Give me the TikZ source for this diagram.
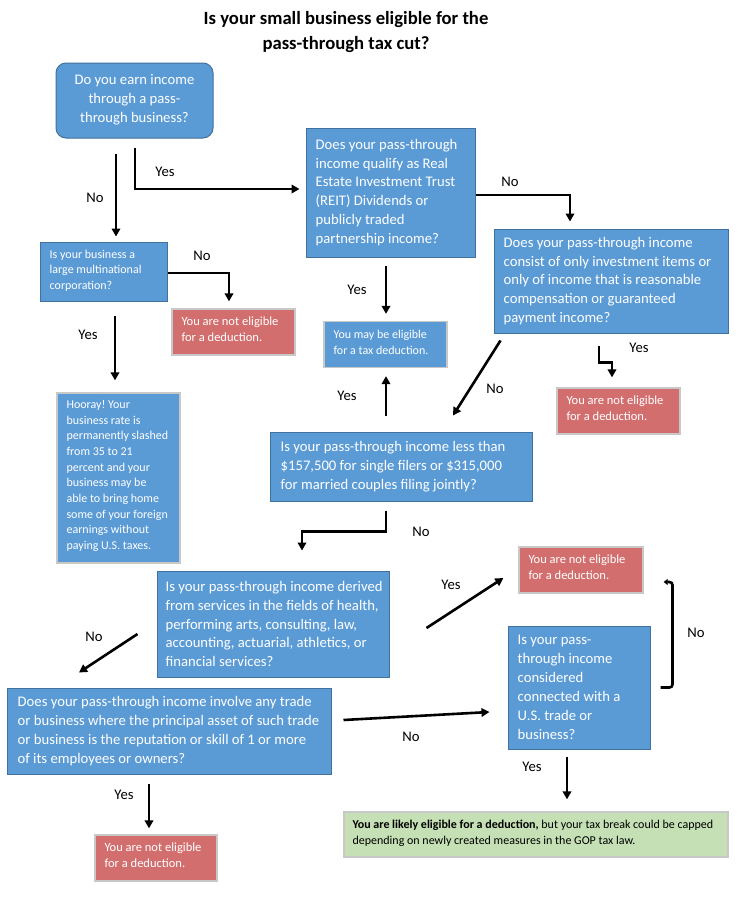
\documentclass[tikz,border=0pt]{standalone}
\usepackage{fontspec}
\setmainfont{Carlito}
\usetikzlibrary{arrows.meta,calc}
\definecolor{bfill}{RGB}{91,155,213}
\definecolor{bline}{RGB}{65,113,156}
\definecolor{rfill}{RGB}{211,110,110}
\definecolor{gline}{RGB}{200,200,200}
\definecolor{grfill}{RGB}{197,224,180}
\frenchspacing
\begin{document}
\begin{tikzpicture}[x=1pt,y=1pt,
  box/.style={draw=bline, fill=bfill, line width=1pt, inner sep=0pt},
  graybox/.style={draw=gline, fill=bfill, line width=1.3pt, inner sep=0pt},
  redbox/.style={graybox, fill=rfill},
  greenbox/.style={graybox, fill=grfill},
  txt/.style={text=white, inner sep=0pt, align=left, anchor=west, font=\fontsize{14.67}{18.9}\selectfont},
  stxt/.style={txt, font=\fontsize{12}{15.7}\selectfont},
  rtxt/.style={txt, font=\fontsize{12.5}{16}\selectfont},
  lbl/.style={font=\fontsize{14.67}{17}\selectfont, text=black, inner sep=0pt},
  arr/.style={line width=2.6pt, line join=miter, -{Triangle[length=8pt,width=8.5pt]}},
  sarr/.style={line width=2.6pt, rounded corners=3pt, -{Triangle[length=4pt,width=6pt]}},
  title/.style={font=\bfseries\fontsize{18.67}{25}\selectfont, align=center, inner sep=0pt}
]
\useasboundingbox (0,0) rectangle (744,-900);
\fill[white] (0,0) rectangle (744,-900);

\node[title] (ttl) at (346,-32) {Is your small business eligible for the\\pass-through tax cut?};

% boxes
\node[box, rounded corners=10pt, minimum width=157pt, minimum height=75pt] (start) at (134.5,-100.5) {};
\node[box, minimum width=169pt, minimum height=129pt] (reit) at (390.5,-192.5) {};
\node[box, minimum width=127pt, minimum height=59pt] (multi) at (103.5,-271.5) {};
\node[redbox, minimum width=123pt, minimum height=46pt] (red1) at (233.5,-332) {};
\node[graybox, minimum width=123pt, minimum height=46pt] (maybe) at (385.5,-344.5) {};
\node[box, minimum width=234pt, minimum height=104pt] (invest) at (611,-281) {};
\node[redbox, minimum width=123pt, minimum height=46pt] (red2) at (618.5,-411) {};
\node[graybox, minimum width=123pt, minimum height=170pt] (hooray) at (118.5,-478) {};
\node[box, minimum width=262pt, minimum height=69pt] (income) at (401,-466.5) {};
\node[box, minimum width=232pt, minimum height=106pt] (services) at (273,-624) {};
\node[redbox, minimum width=124pt, minimum height=46pt] (red3) at (581,-570) {};
\node[box, minimum width=142pt, minimum height=123pt] (us) at (579,-687.5) {};
\node[box, minimum width=324pt, minimum height=86pt] (rep) at (169,-731) {};
\node[redbox, minimum width=122pt, minimum height=46pt] (red4) at (156,-858) {};
\node[greenbox, minimum width=384pt, minimum height=45pt] (green) at (536,-834.5) {};

% texts
\node[txt, anchor=center, align=center] (t-start) at ([yshift=1pt]start.center) {Do you earn income\\through a pass-\\through business?};
\node[txt] (t-reit) at ([xshift=10pt]reit.west) {Does your pass-through\\income qualify as Real\\Estate Investment Trust\\(REIT) Dividends or\\publicly traded\\partnership income?};
\node[stxt] (t-multi) at ([xshift=10pt,yshift=1pt]multi.west) {Is your business a\\large multinational\\corporation?};
\node[rtxt] (t-red1) at ([xshift=10pt,yshift=2.5pt]red1.west) {You are not eligible\\for a deduction.};
\node[stxt] (t-maybe) at ([xshift=10pt,yshift=2pt]maybe.west) {You may be eligible\\for a tax deduction.};
\node[txt] (t-invest) at ([xshift=10pt]invest.west) {Does your pass-through income\\consist of only investment items or\\only of income that is reasonable\\compensation or guaranteed\\payment income?};
\node[rtxt] (t-red2) at ([xshift=10pt,yshift=2.5pt]red2.west) {You are not eligible\\for a deduction.};
\node[stxt] (t-hooray) at ([xshift=10pt,yshift=2pt]hooray.west) {Hooray! Your\\business rate is\\permanently slashed\\from 35 to 21\\percent and your\\business may be\\able to bring home\\some of your foreign\\earnings without\\paying U.S. taxes.};
\node[txt] (t-income) at ([xshift=11pt]income.west) {Is your pass-through income less than\\\$157,500 for single filers or \$315,000\\for married couples filing jointly?};
\node[txt] (t-services) at ([xshift=9pt]services.west) {Is your pass-through income derived\\from services in the fields of health,\\performing arts, consulting, law,\\accounting, actuarial, athletics, or\\financial services?};
\node[rtxt] (t-red3) at ([xshift=10pt,yshift=2.5pt]red3.west) {You are not eligible\\for a deduction.};
\node[txt] (t-us) at ([xshift=10pt]us.west) {Is your pass-\\through income\\considered\\connected with a\\U.S. trade or\\business?};
\node[txt] (t-rep) at ([xshift=11pt]rep.west) {Does your pass-through income involve any trade\\or business where the principal asset of such trade\\or business is the reputation or skill of 1 or more\\of its employees or owners?};
\node[rtxt] (t-red4) at ([xshift=10pt,yshift=2.5pt]red4.west) {You are not eligible\\for a deduction.};
\node[stxt, text=black] (t-green) at ([xshift=9pt,yshift=1pt]green.west) {\textbf{You are likely eligible for a deduction,} but your tax break could be capped\\depending on newly created measures in the GOP tax law.};

% connectors
\draw[arr, shorten <=15pt, shorten >=5pt] ([xshift=-18.5pt]start.south) -- ([xshift=12.5pt]multi.north);
\draw[arr, shorten >=6pt] ([xshift=0.5pt,yshift=-9pt]start.south) |- ([yshift=3.5pt]reit.west);
\draw[arr, shorten >=7pt] ([yshift=-1.5pt]multi.east) -| ([xshift=-4.5pt]red1.north);
\draw[arr, shorten <=14pt, shorten >=12pt] ([xshift=11.5pt]multi.south) -- ([xshift=-3.5pt]hooray.north);
\draw[arr, shorten <=8pt, shorten >=7pt] ([xshift=-4.5pt]reit.south) -- ([xshift=0.5pt]maybe.north);
\draw[arr, shorten >=7pt] ([yshift=-2.5pt]reit.east) -| ([xshift=-41pt]invest.north);
\draw[arr] ([xshift=-12pt,yshift=-12pt]invest.south) -- ++(0,-17) -| ([xshift=-6.5pt,yshift=10pt]red2.north);
\draw[arr] ([xshift=7pt,yshift=-7pt]invest.south west) -- ([xshift=52pt,yshift=16pt]income.north);
\draw[arr, shorten <=16pt, shorten >=8pt] ([xshift=-15pt]income.north) -- ([xshift=0.5pt]maybe.south);
\draw[arr] ([xshift=-15pt,yshift=-9pt]income.south) -- ++(0,-21) -| ([xshift=29pt,yshift=20pt]services.north);
\draw[arr] ([xshift=37pt,yshift=-4pt]services.east) -- ([xshift=-15pt,yshift=-8pt]red3.west);
\draw[arr] ([xshift=-19pt,yshift=-10pt]services.west) -- ([xshift=-90pt,yshift=15pt]rep.north);
\draw[arr] ([xshift=12pt,yshift=11pt]rep.east) -- ([xshift=-18pt,yshift=-24.5pt]us.west);
\draw[arr, shorten <=9pt, shorten >=6pt] ([xshift=-20pt]rep.south) -- ([xshift=-7pt]red4.north);
\draw[sarr] ([xshift=10pt]us.east) -- ++(12,0) |- ([xshift=20pt,yshift=-12pt]red3.east);
\draw[arr, shorten <=7pt, shorten >=12pt] ([xshift=-12pt]us.south) -- ([xshift=31pt]green.north);

% labels
\node[lbl] (l1) at (95,-198) {No};
\node[lbl] (l2) at (165,-172) {Yes};
\node[lbl] (l3) at (202,-256) {No};
\node[lbl] (l4) at (88,-335) {Yes};
\node[lbl] (l5) at (357,-290) {Yes};
\node[lbl] (l6) at (510,-182) {No};
\node[lbl] (l7) at (639,-348) {Yes};
\node[lbl] (l8) at (495,-389) {No};
\node[lbl] (l9) at (347,-396) {Yes};
\node[lbl] (l10) at (421,-532) {No};
\node[lbl] (l11) at (451,-585) {Yes};
\node[lbl] (l12) at (94,-637) {No};
\node[lbl] (l13) at (411,-737) {No};
\node[lbl] (l14) at (124,-795) {Yes};
\node[lbl] (l15) at (696,-633) {No};
\node[lbl] (l16) at (532,-767) {Yes};
\end{tikzpicture}
\end{document}
